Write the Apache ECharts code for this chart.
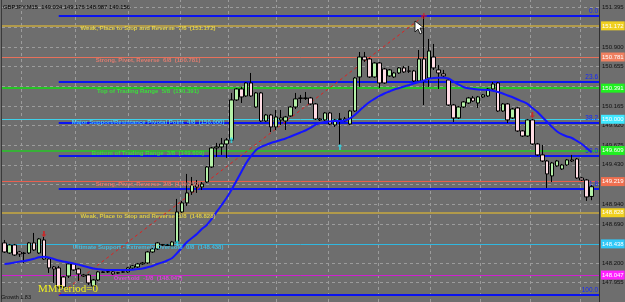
<!DOCTYPE html>
<html><head><meta charset="utf-8">
<script src="https://cdn.jsdelivr.net/npm/echarts@6/dist/echarts.min.js"></script>
<style>html,body{margin:0;padding:0;background:#6e6e6e;}#c{width:625px;height:302px;}</style>
</head><body><div id="c"></div>
<script>
// ---------------- data ----------------
const headerText = 'GBPJPY,M15  149.034 149.176 148.987 149.156';
// [open, close, low, high] per M15 bar
const ohlc = [
[148.452,148.339,148.326,148.489],[148.326,148.427,148.314,148.439],[148.427,148.301,148.289,148.439],[148.339,148.314,148.277,148.352],
[148.326,148.320,148.201,148.339],[148.326,148.452,148.314,148.464],[148.452,148.364,148.352,148.577],[148.326,148.502,148.314,148.514],
[148.489,148.251,148.239,148.527],[148.251,148.139,148.076,148.264],[148.151,148.126,147.951,148.164],[148.139,147.901,147.876,148.164],
[148.026,147.901,147.888,148.038],[148.038,148.189,148.013,148.201],[148.189,148.114,148.101,148.201],[148.126,148.064,147.976,148.139],
[148.051,148.038,148.026,148.064],[148.051,147.951,147.926,148.064],[147.913,147.988,147.901,148.001],[147.988,148.089,147.976,148.101],
[148.089,148.082,148.076,148.101],[148.089,148.092,148.076,148.101],[148.089,148.064,148.051,148.101],[148.076,148.079,148.064,148.089],
[148.089,148.086,148.076,148.101],[148.089,148.139,148.076,148.151],[148.139,148.164,148.126,148.176],[148.151,148.189,148.139,148.201],
[148.189,148.201,148.176,148.214],[148.201,148.339,148.189,148.352],[148.339,148.377,148.326,148.389],[148.377,148.452,148.364,148.464],
[148.427,148.430,148.414,148.439],[148.427,148.420,148.414,148.439],[148.414,148.464,148.402,148.477],[148.464,148.840,148.452,149.003],
[148.840,148.953,148.827,148.978],[148.953,149.078,148.915,149.316],[149.090,149.178,149.053,149.278],[149.178,149.153,149.078,149.240],
[149.153,149.190,149.115,149.215],[149.215,149.403,149.203,149.416],[149.403,149.641,149.391,149.654],[149.641,149.654,149.528,149.704],
[149.654,149.691,149.554,149.766],[149.691,149.741,149.516,149.766],[149.741,150.242,149.728,150.330],[150.242,150.380,150.229,150.392],
[150.380,150.280,150.204,150.405],[150.292,150.455,150.280,150.467],[150.455,150.292,150.280,150.580],[150.154,150.330,150.142,150.342],
[150.330,149.979,149.967,150.342],[149.979,150.054,149.967,150.067],[150.054,149.904,149.841,150.067],[149.904,150.029,149.866,150.117],
[149.992,150.017,149.929,150.117],[149.979,150.029,149.866,150.042],[150.042,150.154,150.029,150.167],[150.154,150.255,150.129,150.330],
[150.267,150.261,150.204,150.305],[150.261,150.267,150.242,150.342],[150.267,150.192,150.179,150.280],[150.192,150.004,149.992,150.204],
[150.004,149.992,149.979,150.017],[149.992,150.079,149.979,150.092],[150.079,149.941,149.929,150.092],[149.929,149.992,149.904,150.004],
[150.004,149.998,149.679,150.079],[149.979,150.004,149.967,150.029],[149.941,150.104,149.929,150.117],[150.104,150.517,150.092,150.530],
[150.530,150.780,150.405,150.843],[150.780,150.743,150.718,150.843],[150.755,150.530,150.517,150.768],[150.530,150.705,150.517,150.718],
[150.705,150.455,150.392,150.718],[150.630,150.455,150.442,150.643],[150.543,150.618,150.530,150.630],[150.530,150.580,150.517,150.593],
[150.580,150.643,150.568,150.655],[150.643,150.593,150.580,150.668],[150.605,150.602,150.580,150.668],[150.605,150.480,150.467,150.618],
[150.480,150.755,150.467,150.868],[150.755,150.480,150.179,151.294],[150.517,150.855,150.405,151.006],[150.780,150.643,150.618,150.943],
[150.618,150.580,150.380,150.680],[150.568,150.543,150.517,150.618],[150.492,150.179,150.167,150.505],[150.179,150.017,149.967,150.192],
[150.017,150.154,150.004,150.167],[150.154,150.217,150.142,150.229],[150.204,150.267,150.192,150.280],[150.267,150.229,150.217,150.292],
[150.204,150.280,150.142,150.292],[150.280,150.305,150.267,150.317],[150.292,150.380,150.280,150.392],[150.380,150.442,150.367,150.467],
[150.455,150.104,150.092,150.467],[150.104,150.192,150.092,150.204],[150.192,149.992,149.954,150.204],[150.017,150.129,150.004,150.142],
[150.142,149.854,149.841,150.154],[149.854,149.791,149.779,149.866],[149.791,149.992,149.779,150.004],[149.992,149.691,149.679,150.004],
[149.691,149.554,149.541,149.704],[149.554,149.478,149.466,149.679],[149.478,149.316,149.140,149.491],[149.291,149.453,149.215,149.466],
[149.416,149.478,149.403,149.491],[149.378,149.428,149.366,149.441],[149.428,149.491,149.416,149.503],[149.491,149.478,149.466,149.554],
[149.503,149.265,149.253,149.516],[149.265,149.240,149.228,149.278],[149.240,149.028,148.978,149.253],[149.034,149.156,148.987,149.176]
];
const maValues = [
148.189,148.195,148.208,148.218,148.226,148.239,148.254,148.273,148.280,148.270,148.251,148.232,148.220,148.208,148.195,148.180,148.164,148.147,148.132,148.124,
148.117,148.114,148.114,148.114,148.114,148.114,148.116,148.124,148.132,148.147,148.164,148.189,148.208,148.232,148.264,148.326,148.395,148.464,148.514,148.564,
148.627,148.677,148.752,148.840,148.927,149.015,149.115,149.228,149.341,149.453,149.541,149.616,149.654,149.679,149.704,149.722,149.741,149.760,149.785,149.810,
149.835,149.860,149.891,149.929,149.954,149.967,149.973,149.979,149.979,149.985,150.010,150.054,150.111,150.167,150.217,150.255,150.292,150.323,150.348,150.373,
150.392,150.411,150.430,150.449,150.467,150.486,150.507,150.517,150.521,150.521,150.511,150.474,150.436,150.405,150.389,150.380,150.373,150.370,150.367,150.357,
150.342,150.323,150.298,150.276,150.248,150.223,150.192,150.142,150.092,150.029,149.967,149.904,149.848,149.810,149.785,149.766,149.729,149.691,149.641,149.591
];
const murreyLevels = [151.172, 150.781, 150.391, 150.000, 149.609, 149.219, 148.828, 148.438, 148.047];
const murreyTexts = [
'Weak, Place to Stop and Reverse  7/8  (151.172)',
'Strong, Pivot, Reverse  6/8  (150.781)',
'Top of Trading Range  5/8  (150.391)',
'Major Support/Resistance Pivotal Point  4/8  (150.000)',
'Bottom of Trading Range  3/8  (149.609)',
'Strong, Pivot, Reverse  2/8  (149.219)',
'Weak, Place to Stop and Reverse  1/8  (148.828)',
'Ultimate Support - Extremely Oversold  0/8  (148.438)',
'Oversold  -1/8  (148.047)'
];
const bidPrice = 149.156;
const fibHigh = 151.294, fibLow = 147.801;
const fibStartBar = 11, fibHighBar = 85;
const fibRatios = [0.0, 23.6, 38.2, 50.0, 61.8, 100.0];
const tickLevels = [151.395,151.150,150.900,150.655,150.410,150.165,149.920,149.675,149.430,149.185,148.940,148.690,148.445,148.200,147.955,147.710];
const tickLabels = ['151.395','','150.900','150.655','','150.165','149.920','149.675','149.430','','148.940','148.690','','148.200','147.955','147.710'];
const vGridBars = [3.5, 14.3, 25.0, 35.6, 45.3, 55.0, 65.6, 75.7, 86.2, 96.4, 106.5, 116.6];
const upArrows = [[35, 148.452], [46, 149.741], [68, 149.654]];
const downArrows = [[8, 148.564], [107, 150.054]];
const murreyLabelBar = 29.1;

// ---------------- styles ----------------
const mLine = ['#c8aa40','#e8705a','#10e010','#40d0e8','#38b038','#e86050','#c8aa40','#30b8e0','#d020d0'];
const mText = ['#f4e040','#f88070','#30f830','#50e4fc','#30f030','#f87868','#f4e040','#40ccf4','#f040f0'];
const mBg   = ['#f0d020','#f08060','#20f020','#40e8ff','#20f020','#f07050','#f0d020','#30c8f8','#ff20ff'];
const mWidth= [1.5,1,1.5,1,2,1,1.5,1,1];
const FONT = '"Liberation Sans",Arial,sans-serif';

const cats = [];
for (let i = 0; i <= ohlc.length; i++) cats.push(String(i));

const chart = echarts.init(document.getElementById('c'), null, {renderer:'canvas'});
const fibLevels = fibRatios.map(r => fibHigh - (fibHigh - fibLow) * r / 100);
const XMAX = cats.length - 0.5;

chart.setOption({
  animation: false,
  backgroundColor: '#6e6e6e',
  grid: {left: 2, top: 0, width: 597, height: 302, containLabel: false},
  xAxis: [
    {type:'category', data: cats, boundaryGap: true, show: false},
    {type:'value', min: -0.5, max: XMAX, show: false}
  ],
  yAxis: {type:'value', min: 147.7124, max: 151.4936, position:'right', scale:true,
    axisLine:{show:true, onZero:false, lineStyle:{color:'#303030', width:1}},
    axisLabel:{show:false}, axisTick:{show:false}, splitLine:{show:false}},
  series: [
    // grid lines + tick labels
    {type:'line', xAxisIndex:1, data:[[0, 150]], showSymbol:false, silent:true, z:1,
      markLine:{symbol:'none', silent:true, animation:false,
        data: tickLevels.map((v,k)=>({yAxis:v,
            lineStyle:{color:'#9c9c9c', type:[3,3], width:1},
            label:{show: tickLabels[k] !== '', position:'end', distance:3, formatter: tickLabels[k],
              color:'#111', fontSize:6, fontFamily:FONT}}))
          .concat(vGridBars.map(b=>({xAxis:b, lineStyle:{color:'#9c9c9c', type:[3,3], width:1}, label:{show:false}})))
      }},
    // Murrey math lines
    {type:'line', xAxisIndex:1, data:[[0, 150]], showSymbol:false, silent:true, z:2,
      markLine:{symbol:'none', silent:true, animation:false,
        data: murreyLevels.map((v,k)=>({yAxis:v,
          lineStyle:{color:mLine[k], width:mWidth[k], type:'solid'},
          label:{show:true, position:'end', distance:2, formatter: v.toFixed(3),
            color:'#ffffff', backgroundColor:mBg[k], padding:[2,1,1,1], fontSize:6, fontFamily:FONT}}))
          .concat([{yAxis: bidPrice, lineStyle:{opacity:0}, label:{show:true, position:'end', distance:2,
            formatter: bidPrice.toFixed(3), color:'#c8c8c8', backgroundColor:'#000', padding:[2,1,1,1], fontSize:6, fontFamily:FONT}}])
      }},
    // Fibonacci
    {type:'line', xAxisIndex:1, data:[[0, 150]], showSymbol:false, silent:true, z:4,
      markLine:{symbol:'none', silent:true, animation:false,
        data: fibLevels.map((v,k)=>[
          {coord:[fibStartBar, v], lineStyle:{color:'#0a14f0', width:2, type:'solid'},
           label:{show:true, position:'insideEndTop', distance:[1,1], formatter: fibRatios[k].toFixed(1),
             color:'#1428ff', fontSize:6.5, fontFamily:FONT}},
          {coord:[XMAX, v]}
        ]).concat([[
          {coord:[fibStartBar, fibLow], lineStyle:{color:'#e02020', width:1, type:[3,3]}, label:{show:false}},
          {coord:[fibHighBar, fibHigh]}
        ]])
      }},
    // candles
    {type:'candlestick', xAxisIndex:0, data: ohlc, barWidth: 4, z:5,
      itemStyle:{color:'#b4f0a8', color0:'#ffdce4', borderColor:'#000', borderColor0:'#000', borderWidth:1}},
    // moving average
    {type:'line', xAxisIndex:0, data: maValues, showSymbol:false, smooth:0.3, z:6,
      lineStyle:{color:'#1414ff', width:2}},
    // Murrey labels (drawn above fib lines)
    {type:'scatter', xAxisIndex:1, symbolSize:0, silent:true, z:7,
      data: murreyLevels.map((v,k)=>({value:[murreyLabelBar, v],
        label:{show:true, position:'bottom', distance:0, formatter: murreyTexts[k], color:mText[k],
          fontSize:6, fontWeight:'bold', fontFamily:FONT}}))},
    // arrows
    {type:'scatter', xAxisIndex:0, z:8, data: upArrows,
      symbol:'path://M3,0 L6,3 L4,3 L4,7 L2,7 L2,3 L0,3 Z', symbolSize:[5,6], itemStyle:{color:'#30e0f0'}},
    {type:'scatter', xAxisIndex:0, z:8, data: downArrows,
      symbol:'path://M2,0 L4,0 L4,4 L6,4 L3,7 L0,4 L2,4 Z', symbolSize:[5,6], itemStyle:{color:'#e01818'}},
    {type:'scatter', xAxisIndex:0, z:8, data: [[fibHighBar, fibHigh]],
      symbol:'path://M2,0 L3,0 L3,2 L5,2 L5,3 L3,3 L3,5 L2,5 L2,3 L0,3 L0,2 L2,2 Z', symbolSize:[6,6], itemStyle:{color:'#e01818'}}
  ],
  graphic: [
    {type:'line', shape:{x1:1.5, y1:0, x2:1.5, y2:302}, style:{stroke:'#3a3a3a', lineWidth:1}, z:10},
    {type:'text', left:3, top:4, z:10, style:{text: headerText, fill:'#000', font:'5.8px ' + FONT}},
    {type:'text', left:1, top:294, z:10, style:{text:'Growth 1.83', fill:'#111', font:'5.5px ' + FONT}},
    {type:'text', left:38, top:284, z:10, style:{text:'MMPeriod=0', fill:'#f0f020', font:'11px "Liberation Serif",serif'}},
    {type:'polygon', z:11, shape:{points:[[415,21],[415,32],[418,29],[420,34],[422,33],[420,28],[424,28]]},
      style:{fill:'#ffffff', stroke:'#000', lineWidth:0.8}}
  ]
});
</script></body></html>
